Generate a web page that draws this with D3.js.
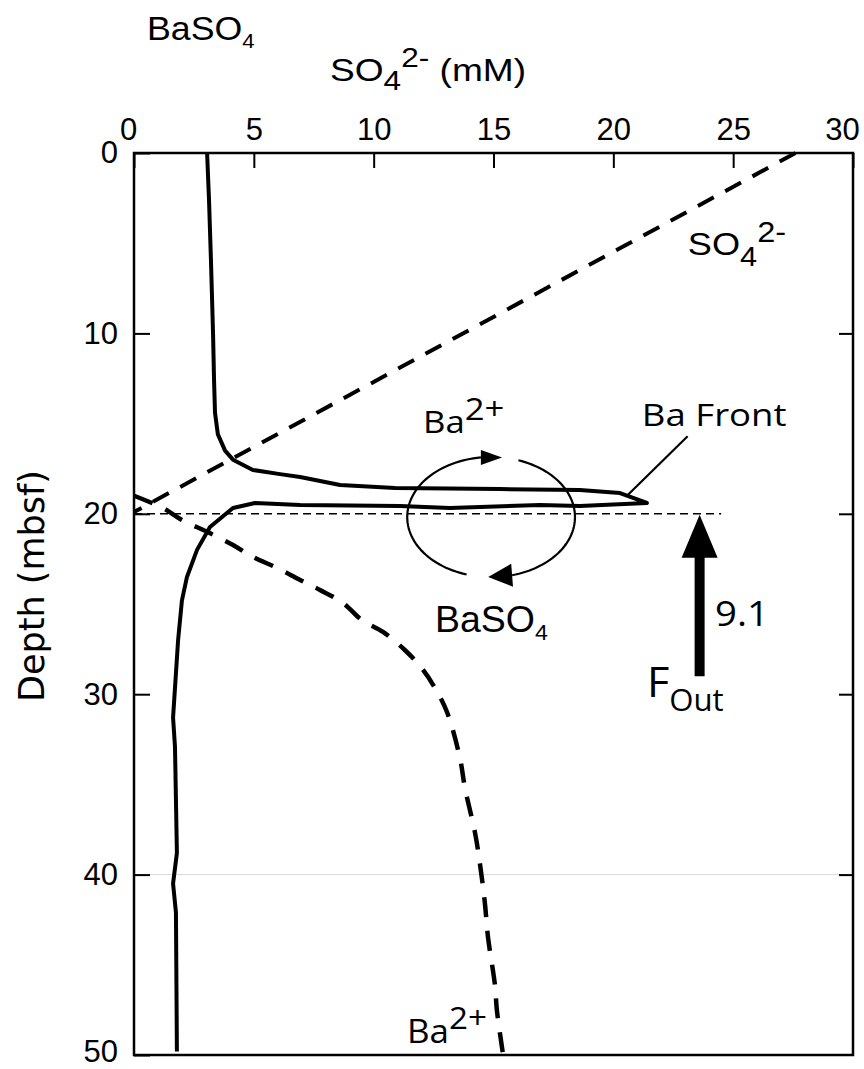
<!DOCTYPE html>
<html>
<head>
<meta charset="utf-8">
<script src="https://cdn.jsdelivr.net/npm/d3@7"></script>
<style>
  html, body { margin: 0; padding: 0; background: #fff; }
  svg { display: block; }
</style>
</head>
<body>
<svg id="chart" width="864" height="1069"></svg>
<script>
// Pore-water sulfate, dissolved barium and barite (BaSO4) profiles vs depth
const concTicks = [0, 5, 10, 15, 20, 25, 30];
const depthTicks = [0, 10, 20, 30, 40, 50];
const innerDepthTicks = [10, 20, 30, 40];

// Barite profile: [concentration, depth (mbsf)]
const barite = [
  [3.05, 0], [3.13, 2.6], [3.21, 5.9], [3.3, 10.1], [3.34, 12.6], [3.38, 14.4],
  [3.5, 15.6], [3.8, 16.5], [4.13, 17.0], [4.96, 17.57], [6.09, 17.8], [6.93, 17.96],
  [8.6, 18.4], [10.89, 18.57], [15.27, 18.63], [18.6, 18.68], [20.28, 18.85],
  [21.4, 19.4],
  [18.6, 19.57], [16.94, 19.51], [13.18, 19.68], [11.1, 19.57], [6.93, 19.51],
  [5.05, 19.4], [4.13, 19.68], [3.17, 20.73], [2.63, 22.0], [2.21, 23.5],
  [2.0, 24.8], [1.84, 27.0], [1.63, 31.3], [1.71, 32.9], [1.79, 38.8],
  [1.63, 40.5], [1.75, 42.1], [1.79, 49.8]
];

// Sulfate: linear decrease to zero at the sulfate-methane transition
const sulfate = [[27.6, 0], [0, 19.9]];

// Dissolved Ba2+ below the front
const barium = [
  [0, 19.0], [1.21, 19.68], [2.0, 20.34], [3.05, 21.0], [4.13, 21.73], [4.96, 22.39],
  [5.97, 23.0], [6.93, 23.67], [7.76, 24.22], [8.72, 24.94], [9.51, 25.89],
  [10.39, 26.55], [11.3, 27.55], [12.0, 28.55], [12.56, 29.66], [13.06, 30.99],
  [13.6, 33.54], [13.81, 35.2], [14.23, 37.69], [14.43, 39.36], [14.64, 41.57],
  [14.77, 43.46], [15.06, 46.12], [15.14, 47.5], [15.39, 49.9]
];

// Annotation geometry (data units)
const frontLine = { depth: 20, from: 0, to: 24.5 };
const cycle = { conc: 14.9, depth: 20.18, rConc: 3.5, rDepth: 3.33 };
const flux = { conc: 23.6, top: 20.05, bottom: 29.0, value: "9.1" };
const frontLeader = [[20.57, 19.0], [23.1, 15.7]];

const svg = d3.select("#chart");
const x = d3.scaleLinear().domain([0, 30]).range([134, 853]);
const y = d3.scaleLinear().domain([0, 50]).range([153, 1055]);

const SANS = "'Liberation Sans', Arial, Helvetica, sans-serif";
const ALT = "'Open Sans', 'Noto Sans', sans-serif";

// faint rule at 40 m
svg.append("line")
  .attr("x1", x(0)).attr("x2", x(30))
  .attr("y1", y(40)).attr("y2", y(40))
  .attr("stroke", "#d9d9d9").attr("stroke-width", 1);

// front depth reference (thin dashed)
svg.append("line")
  .attr("x1", x(frontLine.from)).attr("x2", x(frontLine.to))
  .attr("y1", y(frontLine.depth)).attr("y2", y(frontLine.depth))
  .attr("stroke", "#000").attr("stroke-width", 1.6)
  .attr("stroke-dasharray", "8,5");

const line = d3.line().x(d => x(d[0])).y(d => y(d[1]));

// sulfate (dashed)
svg.append("path")
  .attr("d", line(sulfate))
  .attr("fill", "none").attr("stroke", "#000")
  .attr("stroke-width", 4).attr("stroke-dasharray", "18,13");

// dissolved barium (dashed)
svg.append("path")
  .attr("d", d3.line().x(d => x(d[0])).y(d => y(d[1])).curve(d3.curveCatmullRom)(barium))
  .attr("fill", "none").attr("stroke", "#000")
  .attr("stroke-width", 4.5).attr("stroke-dasharray", "20,14");

// barite (solid)
svg.append("path")
  .attr("d", line(barite))
  .attr("fill", "none").attr("stroke", "#000")
  .attr("stroke-width", 4).attr("stroke-linejoin", "round");

// Ba front leader
svg.append("line")
  .attr("x1", x(frontLeader[0][0])).attr("y1", y(frontLeader[0][1]))
  .attr("x2", x(frontLeader[1][0])).attr("y2", y(frontLeader[1][1]))
  .attr("stroke", "#000").attr("stroke-width", 2.2);

// recycling loop around the front
const onLoop = deg => {
  const t = deg * Math.PI / 180;
  return [x(cycle.conc + cycle.rConc * Math.cos(t)), y(cycle.depth - cycle.rDepth * Math.sin(t))];
};
const arcPts = (a0, a1) => d3.range(0, 61).map(i => onLoop(a0 + (a1 - a0) * i / 60));
const pxLine = d3.line();
svg.append("path").attr("d", pxLine(arcPts(253, 97)))
  .attr("fill", "none").attr("stroke", "#000").attr("stroke-width", 2.2);
svg.append("path").attr("d", pxLine(arcPts(71, -75.5)))
  .attr("fill", "none").attr("stroke", "#000").attr("stroke-width", 2.2);

function arrowHead(base, tip, halfW) {
  const dx = tip[0] - base[0], dy = tip[1] - base[1];
  const L = Math.hypot(dx, dy), nx = -dy / L, ny = dx / L;
  return [tip, [base[0] + nx * halfW, base[1] + ny * halfW], [base[0] - nx * halfW, base[1] - ny * halfW]];
}
svg.append("polygon").attr("points", arrowHead(onLoop(97), onLoop(82.5), 7.5).join(" ")).attr("fill", "#000");
svg.append("polygon").attr("points", arrowHead(onLoop(-75.5), onLoop(-92), 11.5).join(" ")).attr("fill", "#000");

// upward Ba flux arrow
{
  const fx = x(flux.conc), tipY = y(flux.top), tailY = y(flux.bottom);
  const headL = 43, headW = 18, shaftW = 5;
  svg.append("polygon")
    .attr("points", [
      [fx, tipY], [fx + headW, tipY + headL], [fx + shaftW, tipY + headL],
      [fx + shaftW, tailY], [fx - shaftW, tailY], [fx - shaftW, tipY + headL],
      [fx - headW, tipY + headL]
    ].join(" "))
    .attr("fill", "#000");
}

// text with sub/superscripts, optionally widened horizontally
function rich(px, py, parts, opt) {
  const g = svg.append("g")
    .attr("transform", `translate(${px},${py}) scale(${opt.sx || 1},1)`);
  const t = g.append("text")
    .attr("x", 0).attr("y", 0)
    .attr("font-family", opt.font).attr("font-size", opt.size)
    .attr("fill", "#000");
  let off = 0;
  parts.forEach(([str, kind]) => {
    let target = 0, size = opt.size;
    if (kind === "sub") { target = opt.sub || opt.size * 0.3; size = opt.size * (opt.subScale || 0.72); }
    if (kind === "sup") { target = -(opt.sup || opt.size * 0.42); size = opt.size * (opt.supScale || 0.72); }
    t.append("tspan").attr("dy", target - off).attr("font-size", size).text(str);
    off = target;
  });
  return t;
}

// titles
rich(147, 40, [["BaSO", ""], ["4", "sub"]], { font: SANS, size: 34, subScale: 0.62, sub: 8, sx: 1.05 });
rich(330, 81, [["SO", ""], ["4", "sub"], ["2-", "sup"], [" (mM)", ""]],
  { font: SANS, size: 32, subScale: 0.85, sub: 9, supScale: 0.85, sup: 14, sx: 1.16 });

// in-plot labels
rich(x(23.11), y(5.65), [["SO", ""], ["4", "sub"], ["2-", "sup"]],
  { font: SANS, size: 32, subScale: 0.85, sub: 11, supScale: 0.9, sup: 13, sx: 1.13 });
rich(x(12.06), y(15.52), [["Ba", ""], ["2+", "sup"]],
  { font: ALT, size: 31, supScale: 1.0, sup: 13, sx: 1.12 });
rich(x(21.19), y(15.13), [["Ba Front", ""]], { font: ALT, size: 31, sx: 1.18 });
rich(x(12.56), y(26.55), [["BaSO", ""], ["4", "sub"]],
  { font: SANS, size: 36, subScale: 0.62, sub: 8, sx: 1.04 });
rich(x(24.24), y(26.22), [[flux.value, ""]], { font: ALT, size: 34, sx: 1.13 });
rich(x(21.4), y(30.16), [["F", ""], ["Out", "sub"]],
  { font: ALT, size: 42, subScale: 0.72, sub: 14, sx: 1.03 });
rich(x(11.39), y(49.33), [["Ba", ""], ["2+", "sup"]],
  { font: ALT, size: 33, supScale: 0.95, sup: 14, sx: 1.06 });

// y-axis title
svg.append("text")
  .attr("transform", `translate(44,${(462 + 710) / 2}) rotate(-90)`)
  .attr("text-anchor", "middle")
  .attr("font-family", "'DejaVu Sans', Verdana, sans-serif")
  .attr("font-size", 35)
  .text("Depth (mbsf)");

// plot frame
svg.append("rect")
  .attr("x", x(0)).attr("y", y(0))
  .attr("width", x(30) - x(0)).attr("height", y(50) - y(0))
  .attr("fill", "none").attr("stroke", "#000").attr("stroke-width", 2.5);

// axes
const topAxis = d3.axisTop(x).tickValues(concTicks)
  .tickSizeInner(-15).tickSizeOuter(0).tickPadding(13).tickFormat(d3.format("d"));
const gTop = svg.append("g").attr("transform", `translate(0,${y(0)})`).call(topAxis);
gTop.selectAll("text").attr("dx", d => d === 0 ? -6 : d === 30 ? -11 : 0);

const leftAxis = d3.axisLeft(y).tickValues(depthTicks)
  .tickSizeInner(-16).tickSizeOuter(0).tickPadding(16).tickFormat(d3.format("d"));
const gLeft = svg.append("g").attr("transform", `translate(${x(0)},0)`).call(leftAxis);
gLeft.selectAll("text").attr("dy", d => d === 50 ? "0.22em" : "0.32em");

const rightAxis = d3.axisRight(y).tickValues(innerDepthTicks)
  .tickSizeInner(-14).tickSizeOuter(0).tickFormat("");
svg.append("g").attr("transform", `translate(${x(30)},0)`).call(rightAxis);

svg.selectAll(".domain").remove();
svg.selectAll(".tick line").attr("stroke", "#000").attr("stroke-width", 2);
svg.selectAll(".tick text")
  .attr("font-family", SANS).attr("font-size", 31).attr("fill", "#000");
</script>
</body>
</html>
